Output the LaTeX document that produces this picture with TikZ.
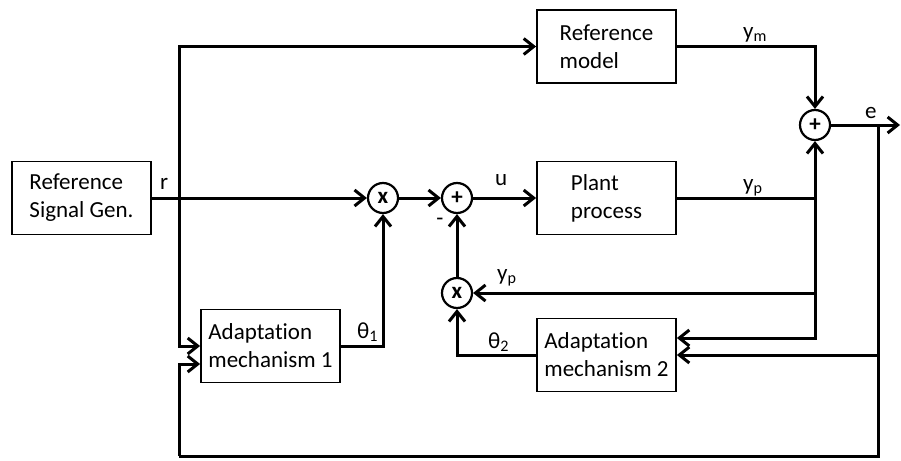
\documentclass[tikz,border=0pt]{standalone}
\usepackage{fontspec}
\setmainfont{Carlito}[Ligatures=NoCommon]
\usetikzlibrary{positioning,arrows.meta}
\tikzset{
  blk/.style={draw, line width=1.8pt, minimum width=139pt, minimum height=73pt,
              align=left, inner sep=0pt, font=\fontsize{23}{28}\selectfont},
  jn/.style={draw, circle, line width=2.2pt, minimum size=30pt, inner sep=0pt,
             font=\bfseries\fontsize{23}{23}\selectfont},
  sg/.style={line width=3pt},
  ar/.style={sg, -{Straight Barb[length=10pt,width=16pt]}},
  lb/.style={font=\fontsize{23}{24}\selectfont, inner sep=0pt, anchor=base west}
}
\begin{document}
\begin{tikzpicture}[x=1pt, y=-1pt]
  \useasboundingbox (0,0) rectangle (901,460);
  \node[blk] (refgen) at (81.5,198) {Reference\\Signal Gen.};
  \node[blk] (refmodel) at (606.5,46.5) {Reference\\model};
  \node[blk] (plant) at (606.5,198) {Plant\\process};
  \node[blk] (adapt1) at (270.5,346) {Adaptation\\mechanism 1};
  \node[blk] (adapt2) at (606.5,355) {Adaptation\\mechanism 2};
  \node[jn] (mult1) at (383,198) {x};
  \node[jn] (sum2) at (457,198) {+};
  \node[jn] (mult2) at (457,293) {x};
  \node[jn] (sum1) at (815,125) {+};
  \coordinate (rsplit) at (179,198);
  \coordinate (ysplit) at (815,198);
  \coordinate (ysplit2) at (815,293);
  \coordinate (esplit) at (878,125);
  \coordinate (eout) at (900,125);
  \coordinate (fbcorner) at (179,456);
  \node[lb] (lr) at (160,189) {r};
  \node[lb] (lym) at (743,38) {y\textsubscript{m}};
  \node[lb] (le) at (865,118) {e};
  \node[lb] (lu) at (495,185) {u};
  \node[lb] (lyp) at (743,190) {y\textsubscript{p}};
  \node[lb] (lyp2) at (497,280) {y\textsubscript{p}};
  \node[lb] (lth1) at (357,338) {θ\textsubscript{1}};
  \node[lb] (lth2) at (488,348) {θ\textsubscript{2}};
  \node[font=\fontsize{23}{24}\selectfont, inner sep=0pt] (lminus) at (440,222) {-};
  \draw[ar] (refgen.east) -- (mult1); \draw[ar] (mult1) -- (sum2); \draw[ar] (sum2) -- (plant);
  \draw[ar] (rsplit) |- (refmodel.west);
  \draw[ar] (rsplit) |- (adapt1.west);
  \draw[ar] (adapt1.east) -| (mult1.south);
  \draw[ar] (refmodel.east) -| (sum1.north);
  \draw[ar] (plant.east) -| (sum1.south);
  \draw[ar] (ysplit) |- ([yshift=17pt]adapt2.east);
  \draw[ar] (ysplit2) -- (mult2);
  \draw[ar] (mult2) -- (sum2);
  \draw[ar] (adapt2.west) -| (mult2.south);
  \draw[ar] (sum1) -- (eout);
  \draw[sg] (esplit) |- (fbcorner);
  \draw[ar] (fbcorner) |- ([yshift=-18pt]adapt1.west);
  \draw[ar] (esplit |- adapt2.east) -- (adapt2.east);
\end{tikzpicture}
\end{document}
